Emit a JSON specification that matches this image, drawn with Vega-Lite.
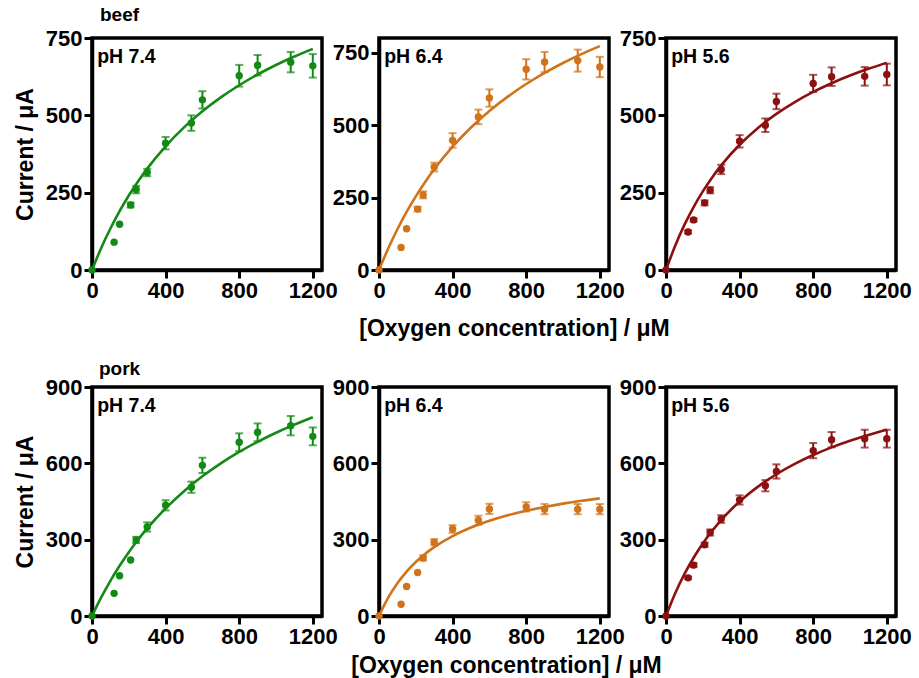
{
  "$schema": "https://vega.github.io/schema/vega-lite/v6.json",
  "background": "white",
  "padding": {"left": 12, "top": 4, "right": 5, "bottom": 2},
  "config": {
    "font": "Liberation Sans",
    "view": {"stroke": "black", "strokeWidth": 3.5},
    "axis": {"domainColor": "black", "domainWidth": 3.5, "tickColor": "black", "tickWidth": 3, "tickSize": 8, "labelFont": "Liberation Sans", "labelFontSize": 22, "labelFontWeight": "bold", "labelColor": "black", "titleFont": "Liberation Sans", "titleFontSize": 23, "titleFontWeight": "bold", "titleColor": "black", "grid": false, "labelFlush": false, "labelPadding": 2, "labelOverlap": false}
  },
  "datasets": {
    "pts": [
      {"m": "beef", "p": "7.4", "x": 0, "y": 0, "e": 0},
      {"m": "beef", "p": "7.4", "x": 120, "y": 90, "e": 0},
      {"m": "beef", "p": "7.4", "x": 150, "y": 148, "e": 0},
      {"m": "beef", "p": "7.4", "x": 210, "y": 210, "e": 8},
      {"m": "beef", "p": "7.4", "x": 240, "y": 260, "e": 12},
      {"m": "beef", "p": "7.4", "x": 300, "y": 315, "e": 12},
      {"m": "beef", "p": "7.4", "x": 400, "y": 410, "e": 20},
      {"m": "beef", "p": "7.4", "x": 540, "y": 475, "e": 25},
      {"m": "beef", "p": "7.4", "x": 600, "y": 550, "e": 28},
      {"m": "beef", "p": "7.4", "x": 800, "y": 628, "e": 35},
      {"m": "beef", "p": "7.4", "x": 900, "y": 662, "e": 33},
      {"m": "beef", "p": "7.4", "x": 1080, "y": 672, "e": 33},
      {"m": "beef", "p": "7.4", "x": 1200, "y": 660, "e": 38},
      {"m": "beef", "p": "6.4", "x": 0, "y": 0, "e": 0},
      {"m": "beef", "p": "6.4", "x": 120, "y": 78, "e": 0},
      {"m": "beef", "p": "6.4", "x": 150, "y": 142, "e": 0},
      {"m": "beef", "p": "6.4", "x": 210, "y": 210, "e": 8},
      {"m": "beef", "p": "6.4", "x": 240, "y": 259, "e": 12},
      {"m": "beef", "p": "6.4", "x": 300, "y": 355, "e": 15},
      {"m": "beef", "p": "6.4", "x": 400, "y": 447, "e": 25},
      {"m": "beef", "p": "6.4", "x": 540, "y": 528, "e": 25},
      {"m": "beef", "p": "6.4", "x": 600, "y": 593, "e": 30},
      {"m": "beef", "p": "6.4", "x": 800, "y": 692, "e": 35},
      {"m": "beef", "p": "6.4", "x": 900, "y": 717, "e": 35},
      {"m": "beef", "p": "6.4", "x": 1080, "y": 722, "e": 38},
      {"m": "beef", "p": "6.4", "x": 1200, "y": 700, "e": 35},
      {"m": "beef", "p": "5.6", "x": 0, "y": 0, "e": 0},
      {"m": "beef", "p": "5.6", "x": 120, "y": 123, "e": 5},
      {"m": "beef", "p": "5.6", "x": 150, "y": 162, "e": 5},
      {"m": "beef", "p": "5.6", "x": 210, "y": 217, "e": 8},
      {"m": "beef", "p": "5.6", "x": 240, "y": 258, "e": 10},
      {"m": "beef", "p": "5.6", "x": 300, "y": 325, "e": 15},
      {"m": "beef", "p": "5.6", "x": 400, "y": 416, "e": 20},
      {"m": "beef", "p": "5.6", "x": 540, "y": 468, "e": 22},
      {"m": "beef", "p": "5.6", "x": 600, "y": 545, "e": 25},
      {"m": "beef", "p": "5.6", "x": 800, "y": 603, "e": 28},
      {"m": "beef", "p": "5.6", "x": 900, "y": 625, "e": 30},
      {"m": "beef", "p": "5.6", "x": 1080, "y": 626, "e": 30},
      {"m": "beef", "p": "5.6", "x": 1200, "y": 632, "e": 35},
      {"m": "pork", "p": "7.4", "x": 0, "y": 0, "e": 0},
      {"m": "pork", "p": "7.4", "x": 120, "y": 89, "e": 0},
      {"m": "pork", "p": "7.4", "x": 150, "y": 158, "e": 0},
      {"m": "pork", "p": "7.4", "x": 210, "y": 220, "e": 0},
      {"m": "pork", "p": "7.4", "x": 240, "y": 299, "e": 12},
      {"m": "pork", "p": "7.4", "x": 300, "y": 350, "e": 18},
      {"m": "pork", "p": "7.4", "x": 400, "y": 435, "e": 20},
      {"m": "pork", "p": "7.4", "x": 540, "y": 506, "e": 22},
      {"m": "pork", "p": "7.4", "x": 600, "y": 592, "e": 30},
      {"m": "pork", "p": "7.4", "x": 800, "y": 683, "e": 35},
      {"m": "pork", "p": "7.4", "x": 900, "y": 722, "e": 35},
      {"m": "pork", "p": "7.4", "x": 1080, "y": 748, "e": 38},
      {"m": "pork", "p": "7.4", "x": 1200, "y": 706, "e": 35},
      {"m": "pork", "p": "6.4", "x": 0, "y": 0, "e": 0},
      {"m": "pork", "p": "6.4", "x": 120, "y": 46, "e": 0},
      {"m": "pork", "p": "6.4", "x": 150, "y": 116, "e": 0},
      {"m": "pork", "p": "6.4", "x": 210, "y": 171, "e": 0},
      {"m": "pork", "p": "6.4", "x": 240, "y": 228, "e": 10},
      {"m": "pork", "p": "6.4", "x": 300, "y": 290, "e": 12},
      {"m": "pork", "p": "6.4", "x": 400, "y": 342, "e": 15},
      {"m": "pork", "p": "6.4", "x": 540, "y": 376, "e": 18},
      {"m": "pork", "p": "6.4", "x": 600, "y": 421, "e": 20},
      {"m": "pork", "p": "6.4", "x": 800, "y": 429, "e": 18},
      {"m": "pork", "p": "6.4", "x": 900, "y": 420, "e": 20},
      {"m": "pork", "p": "6.4", "x": 1080, "y": 420, "e": 20},
      {"m": "pork", "p": "6.4", "x": 1200, "y": 420, "e": 20},
      {"m": "pork", "p": "5.6", "x": 0, "y": 0, "e": 0},
      {"m": "pork", "p": "5.6", "x": 120, "y": 150, "e": 5},
      {"m": "pork", "p": "5.6", "x": 150, "y": 200, "e": 8},
      {"m": "pork", "p": "5.6", "x": 210, "y": 280, "e": 8},
      {"m": "pork", "p": "5.6", "x": 240, "y": 328, "e": 12},
      {"m": "pork", "p": "5.6", "x": 300, "y": 381, "e": 15},
      {"m": "pork", "p": "5.6", "x": 400, "y": 456, "e": 18},
      {"m": "pork", "p": "5.6", "x": 540, "y": 512, "e": 22},
      {"m": "pork", "p": "5.6", "x": 600, "y": 568, "e": 28},
      {"m": "pork", "p": "5.6", "x": 800, "y": 650, "e": 30},
      {"m": "pork", "p": "5.6", "x": 900, "y": 693, "e": 30},
      {"m": "pork", "p": "5.6", "x": 1080, "y": 697, "e": 35},
      {"m": "pork", "p": "5.6", "x": 1200, "y": 697, "e": 35}
    ],
    "fit": [
      {"m": "beef", "p": "7.4", "x": 0, "y": 0}, {"m": "beef", "p": "7.4", "x": 50, "y": 71.1}, {"m": "beef", "p": "7.4", "x": 100, "y": 134.1}, {"m": "beef", "p": "7.4", "x": 150, "y": 190.4}, {"m": "beef", "p": "7.4", "x": 200, "y": 240.9}, {"m": "beef", "p": "7.4", "x": 250, "y": 286.4}, {"m": "beef", "p": "7.4", "x": 300, "y": 327.8}, {"m": "beef", "p": "7.4", "x": 400, "y": 400}, {"m": "beef", "p": "7.4", "x": 500, "y": 460.9}, {"m": "beef", "p": "7.4", "x": 600, "y": 513}, {"m": "beef", "p": "7.4", "x": 700, "y": 558}, {"m": "beef", "p": "7.4", "x": 800, "y": 597.3}, {"m": "beef", "p": "7.4", "x": 900, "y": 632}, {"m": "beef", "p": "7.4", "x": 1000, "y": 662.7}, {"m": "beef", "p": "7.4", "x": 1100, "y": 690.2}, {"m": "beef", "p": "7.4", "x": 1200, "y": 714.9},
      {"m": "beef", "p": "6.4", "x": 0, "y": 0}, {"m": "beef", "p": "6.4", "x": 50, "y": 74.3}, {"m": "beef", "p": "6.4", "x": 100, "y": 140.6}, {"m": "beef", "p": "6.4", "x": 150, "y": 200.2}, {"m": "beef", "p": "6.4", "x": 200, "y": 253.9}, {"m": "beef", "p": "6.4", "x": 250, "y": 302.6}, {"m": "beef", "p": "6.4", "x": 300, "y": 347.1}, {"m": "beef", "p": "6.4", "x": 400, "y": 425.1}, {"m": "beef", "p": "6.4", "x": 500, "y": 491.3}, {"m": "beef", "p": "6.4", "x": 600, "y": 548.3}, {"m": "beef", "p": "6.4", "x": 700, "y": 597.8}, {"m": "beef", "p": "6.4", "x": 800, "y": 641.3}, {"m": "beef", "p": "6.4", "x": 900, "y": 679.7}, {"m": "beef", "p": "6.4", "x": 1000, "y": 713.9}, {"m": "beef", "p": "6.4", "x": 1100, "y": 744.6}, {"m": "beef", "p": "6.4", "x": 1200, "y": 772.2},
      {"m": "beef", "p": "5.6", "x": 0, "y": 0}, {"m": "beef", "p": "5.6", "x": 50, "y": 78.6}, {"m": "beef", "p": "5.6", "x": 100, "y": 145.7}, {"m": "beef", "p": "5.6", "x": 150, "y": 203.6}, {"m": "beef", "p": "5.6", "x": 200, "y": 254.2}, {"m": "beef", "p": "5.6", "x": 250, "y": 298.6}, {"m": "beef", "p": "5.6", "x": 300, "y": 338.1}, {"m": "beef", "p": "5.6", "x": 400, "y": 404.9}, {"m": "beef", "p": "5.6", "x": 500, "y": 459.4}, {"m": "beef", "p": "5.6", "x": 600, "y": 504.6}, {"m": "beef", "p": "5.6", "x": 700, "y": 542.9}, {"m": "beef", "p": "5.6", "x": 800, "y": 575.6}, {"m": "beef", "p": "5.6", "x": 900, "y": 603.8}, {"m": "beef", "p": "5.6", "x": 1000, "y": 628.6}, {"m": "beef", "p": "5.6", "x": 1100, "y": 650.3}, {"m": "beef", "p": "5.6", "x": 1200, "y": 669.7},
      {"m": "pork", "p": "7.4", "x": 0, "y": 0}, {"m": "pork", "p": "7.4", "x": 50, "y": 72.8}, {"m": "pork", "p": "7.4", "x": 100, "y": 138.2}, {"m": "pork", "p": "7.4", "x": 150, "y": 197.2}, {"m": "pork", "p": "7.4", "x": 200, "y": 250.7}, {"m": "pork", "p": "7.4", "x": 250, "y": 299.6}, {"m": "pork", "p": "7.4", "x": 300, "y": 344.2}, {"m": "pork", "p": "7.4", "x": 400, "y": 423.1}, {"m": "pork", "p": "7.4", "x": 500, "y": 490.6}, {"m": "pork", "p": "7.4", "x": 600, "y": 548.9}, {"m": "pork", "p": "7.4", "x": 700, "y": 599.9}, {"m": "pork", "p": "7.4", "x": 800, "y": 644.8}, {"m": "pork", "p": "7.4", "x": 900, "y": 684.6}, {"m": "pork", "p": "7.4", "x": 1000, "y": 720.2}, {"m": "pork", "p": "7.4", "x": 1100, "y": 752.2}, {"m": "pork", "p": "7.4", "x": 1200, "y": 781.2},
      {"m": "pork", "p": "6.4", "x": 0, "y": 0}, {"m": "pork", "p": "6.4", "x": 50, "y": 72}, {"m": "pork", "p": "6.4", "x": 100, "y": 128.7}, {"m": "pork", "p": "6.4", "x": 150, "y": 174.5}, {"m": "pork", "p": "6.4", "x": 200, "y": 212.3}, {"m": "pork", "p": "6.4", "x": 250, "y": 244}, {"m": "pork", "p": "6.4", "x": 300, "y": 270.9}, {"m": "pork", "p": "6.4", "x": 400, "y": 314.3}, {"m": "pork", "p": "6.4", "x": 500, "y": 347.7}, {"m": "pork", "p": "6.4", "x": 600, "y": 374.2}, {"m": "pork", "p": "6.4", "x": 700, "y": 395.8}, {"m": "pork", "p": "6.4", "x": 800, "y": 413.7}, {"m": "pork", "p": "6.4", "x": 900, "y": 428.7}, {"m": "pork", "p": "6.4", "x": 1000, "y": 441.6}, {"m": "pork", "p": "6.4", "x": 1100, "y": 452.7}, {"m": "pork", "p": "6.4", "x": 1200, "y": 462.4},
      {"m": "pork", "p": "5.6", "x": 0, "y": 0}, {"m": "pork", "p": "5.6", "x": 50, "y": 89.1}, {"m": "pork", "p": "5.6", "x": 100, "y": 164.5}, {"m": "pork", "p": "5.6", "x": 150, "y": 229.1}, {"m": "pork", "p": "5.6", "x": 200, "y": 285}, {"m": "pork", "p": "5.6", "x": 250, "y": 334}, {"m": "pork", "p": "5.6", "x": 300, "y": 377.1}, {"m": "pork", "p": "5.6", "x": 400, "y": 449.8}, {"m": "pork", "p": "5.6", "x": 500, "y": 508.6}, {"m": "pork", "p": "5.6", "x": 600, "y": 557.1}, {"m": "pork", "p": "5.6", "x": 700, "y": 597.9}, {"m": "pork", "p": "5.6", "x": 800, "y": 632.6}, {"m": "pork", "p": "5.6", "x": 900, "y": 662.6}, {"m": "pork", "p": "5.6", "x": 1000, "y": 688.6}, {"m": "pork", "p": "5.6", "x": 1100, "y": 711.5}, {"m": "pork", "p": "5.6", "x": 1200, "y": 731.8}
    ],
    "labels": [
      {"m": "beef", "p": "7.4", "t": "pH 7.4"}, {"m": "beef", "p": "6.4", "t": "pH 6.4"}, {"m": "beef", "p": "5.6", "t": "pH 5.6"},
      {"m": "pork", "p": "7.4", "t": "pH 7.4"}, {"m": "pork", "p": "6.4", "t": "pH 6.4"}, {"m": "pork", "p": "5.6", "t": "pH 5.6"}
    ]
  },
  "bounds": "flush",
  "columns": 3,
  "spacing": {"row": 117, "column": 57},
  "concat": [
    {
      "width": 230, "height": 232,
      "title": {"text": "beef", "anchor": "start", "frame": "group", "fontSize": 19, "fontWeight": "bold", "color": "black", "offset": 2, "dx": 8},
      "layer": [
        {
          "encoding": {
            "x": {"field": "x", "type": "quantitative", "title": null, "scale": {"domain": [0, 1250], "nice": false}, "axis": {"values": [0, 400, 800, 1200], "format": "d"}},
            "y": {"field": "y", "type": "quantitative", "title": "Current / μA", "scale": {"domain": [0, 750], "nice": false}, "axis": {"values": [0, 250, 500, 750], "titlePadding": 8}}
          },
          "layer": [
            {"data": {"name": "fit"}, "transform": [{"filter": "datum.m == 'beef' && datum.p == '7.4'"}],
             "mark": {"type": "line", "color": "#128a14", "strokeWidth": 2.6, "interpolate": "monotone", "clip": true}},
            {"data": {"name": "pts"}, "transform": [{"filter": "datum.m == 'beef' && datum.p == '7.4' && datum.e > 0"}],
             "mark": {"type": "errorbar", "color": "#128a14", "ticks": {"size": 8, "thickness": 2}, "rule": {"strokeWidth": 2}},
             "encoding": {"yError": {"field": "e"}}},
            {"data": {"name": "pts"}, "transform": [{"filter": "datum.m == 'beef' && datum.p == '7.4'"}],
             "mark": {"type": "circle", "color": "#128a14", "size": 55, "opacity": 1}}
          ]
        },
        {"data": {"name": "labels"}, "transform": [{"filter": "datum.m == 'beef' && datum.p == '7.4'"}],
         "mark": {"type": "text", "align": "left", "baseline": "middle", "fontSize": 19.5, "fontWeight": "bold", "color": "black"},
         "encoding": {"x": {"datum": 28, "type": "quantitative", "title": null}, "y": {"datum": 689, "type": "quantitative", "title": "Current / μA"}, "text": {"field": "t"}}}
      ]
    },
    {
      "width": 230, "height": 232,
      "layer": [
        {
          "encoding": {
            "x": {"field": "x", "type": "quantitative", "title": "[Oxygen concentration] / μM", "scale": {"domain": [0, 1250], "nice": false}, "axis": {"values": [0, 400, 800, 1200], "format": "d", "titleX": 135, "titlePadding": 16}},
            "y": {"field": "y", "type": "quantitative", "title": null, "scale": {"domain": [0, 800], "nice": false}, "axis": {"values": [0, 250, 500, 750]}}
          },
          "layer": [
            {"data": {"name": "fit"}, "transform": [{"filter": "datum.m == 'beef' && datum.p == '6.4'"}],
             "mark": {"type": "line", "color": "#d0731a", "strokeWidth": 2.6, "interpolate": "monotone", "clip": true}},
            {"data": {"name": "pts"}, "transform": [{"filter": "datum.m == 'beef' && datum.p == '6.4' && datum.e > 0"}],
             "mark": {"type": "errorbar", "color": "#d0731a", "ticks": {"size": 8, "thickness": 2}, "rule": {"strokeWidth": 2}},
             "encoding": {"yError": {"field": "e"}}},
            {"data": {"name": "pts"}, "transform": [{"filter": "datum.m == 'beef' && datum.p == '6.4'"}],
             "mark": {"type": "circle", "color": "#d0731a", "size": 55, "opacity": 1}}
          ]
        },
        {"data": {"name": "labels"}, "transform": [{"filter": "datum.m == 'beef' && datum.p == '6.4'"}],
         "mark": {"type": "text", "align": "left", "baseline": "middle", "fontSize": 19.5, "fontWeight": "bold", "color": "black"},
         "encoding": {"x": {"datum": 28, "type": "quantitative", "title": "[Oxygen concentration] / μM"}, "y": {"datum": 734, "type": "quantitative", "title": null}, "text": {"field": "t"}}}
      ]
    },
    {
      "width": 230, "height": 232,
      "layer": [
        {
          "encoding": {
            "x": {"field": "x", "type": "quantitative", "title": null, "scale": {"domain": [0, 1250], "nice": false}, "axis": {"values": [0, 400, 800, 1200], "format": "d"}},
            "y": {"field": "y", "type": "quantitative", "title": null, "scale": {"domain": [0, 750], "nice": false}, "axis": {"values": [0, 250, 500, 750]}}
          },
          "layer": [
            {"data": {"name": "fit"}, "transform": [{"filter": "datum.m == 'beef' && datum.p == '5.6'"}],
             "mark": {"type": "line", "color": "#8c1010", "strokeWidth": 2.6, "interpolate": "monotone", "clip": true}},
            {"data": {"name": "pts"}, "transform": [{"filter": "datum.m == 'beef' && datum.p == '5.6' && datum.e > 0"}],
             "mark": {"type": "errorbar", "color": "#8c1010", "ticks": {"size": 8, "thickness": 2}, "rule": {"strokeWidth": 2}},
             "encoding": {"yError": {"field": "e"}}},
            {"data": {"name": "pts"}, "transform": [{"filter": "datum.m == 'beef' && datum.p == '5.6'"}],
             "mark": {"type": "circle", "color": "#8c1010", "size": 55, "opacity": 1}}
          ]
        },
        {"data": {"name": "labels"}, "transform": [{"filter": "datum.m == 'beef' && datum.p == '5.6'"}],
         "mark": {"type": "text", "align": "left", "baseline": "middle", "fontSize": 19.5, "fontWeight": "bold", "color": "black"},
         "encoding": {"x": {"datum": 28, "type": "quantitative", "title": null}, "y": {"datum": 689, "type": "quantitative", "title": null}, "text": {"field": "t"}}}
      ]
    },
    {
      "width": 230, "height": 229,
      "title": {"text": "pork", "anchor": "start", "frame": "group", "fontSize": 19, "fontWeight": "bold", "color": "black", "offset": -3, "dx": 7},
      "layer": [
        {
          "encoding": {
            "x": {"field": "x", "type": "quantitative", "title": null, "scale": {"domain": [0, 1250], "nice": false}, "axis": {"values": [0, 400, 800, 1200], "format": "d"}},
            "y": {"field": "y", "type": "quantitative", "title": "Current / μA", "scale": {"domain": [0, 900], "nice": false}, "axis": {"values": [0, 300, 600, 900], "titlePadding": 8}}
          },
          "layer": [
            {"data": {"name": "fit"}, "transform": [{"filter": "datum.m == 'pork' && datum.p == '7.4'"}],
             "mark": {"type": "line", "color": "#128a14", "strokeWidth": 2.6, "interpolate": "monotone", "clip": true}},
            {"data": {"name": "pts"}, "transform": [{"filter": "datum.m == 'pork' && datum.p == '7.4' && datum.e > 0"}],
             "mark": {"type": "errorbar", "color": "#128a14", "ticks": {"size": 8, "thickness": 2}, "rule": {"strokeWidth": 2}},
             "encoding": {"yError": {"field": "e"}}},
            {"data": {"name": "pts"}, "transform": [{"filter": "datum.m == 'pork' && datum.p == '7.4'"}],
             "mark": {"type": "circle", "color": "#128a14", "size": 55, "opacity": 1}}
          ]
        },
        {"data": {"name": "labels"}, "transform": [{"filter": "datum.m == 'pork' && datum.p == '7.4'"}],
         "mark": {"type": "text", "align": "left", "baseline": "middle", "fontSize": 19.5, "fontWeight": "bold", "color": "black"},
         "encoding": {"x": {"datum": 28, "type": "quantitative", "title": null}, "y": {"datum": 825, "type": "quantitative", "title": "Current / μA"}, "text": {"field": "t"}}}
      ]
    },
    {
      "width": 230, "height": 229,
      "layer": [
        {
          "encoding": {
            "x": {"field": "x", "type": "quantitative", "title": "[Oxygen concentration] / μM", "scale": {"domain": [0, 1250], "nice": false}, "axis": {"values": [0, 400, 800, 1200], "format": "d", "titleX": 127, "titlePadding": 7}},
            "y": {"field": "y", "type": "quantitative", "title": null, "scale": {"domain": [0, 900], "nice": false}, "axis": {"values": [0, 300, 600, 900]}}
          },
          "layer": [
            {"data": {"name": "fit"}, "transform": [{"filter": "datum.m == 'pork' && datum.p == '6.4'"}],
             "mark": {"type": "line", "color": "#d0731a", "strokeWidth": 2.6, "interpolate": "monotone", "clip": true}},
            {"data": {"name": "pts"}, "transform": [{"filter": "datum.m == 'pork' && datum.p == '6.4' && datum.e > 0"}],
             "mark": {"type": "errorbar", "color": "#d0731a", "ticks": {"size": 8, "thickness": 2}, "rule": {"strokeWidth": 2}},
             "encoding": {"yError": {"field": "e"}}},
            {"data": {"name": "pts"}, "transform": [{"filter": "datum.m == 'pork' && datum.p == '6.4'"}],
             "mark": {"type": "circle", "color": "#d0731a", "size": 55, "opacity": 1}}
          ]
        },
        {"data": {"name": "labels"}, "transform": [{"filter": "datum.m == 'pork' && datum.p == '6.4'"}],
         "mark": {"type": "text", "align": "left", "baseline": "middle", "fontSize": 19.5, "fontWeight": "bold", "color": "black"},
         "encoding": {"x": {"datum": 28, "type": "quantitative", "title": "[Oxygen concentration] / μM"}, "y": {"datum": 825, "type": "quantitative", "title": null}, "text": {"field": "t"}}}
      ]
    },
    {
      "width": 230, "height": 229,
      "layer": [
        {
          "encoding": {
            "x": {"field": "x", "type": "quantitative", "title": null, "scale": {"domain": [0, 1250], "nice": false}, "axis": {"values": [0, 400, 800, 1200], "format": "d"}},
            "y": {"field": "y", "type": "quantitative", "title": null, "scale": {"domain": [0, 900], "nice": false}, "axis": {"values": [0, 300, 600, 900]}}
          },
          "layer": [
            {"data": {"name": "fit"}, "transform": [{"filter": "datum.m == 'pork' && datum.p == '5.6'"}],
             "mark": {"type": "line", "color": "#8c1010", "strokeWidth": 2.6, "interpolate": "monotone", "clip": true}},
            {"data": {"name": "pts"}, "transform": [{"filter": "datum.m == 'pork' && datum.p == '5.6' && datum.e > 0"}],
             "mark": {"type": "errorbar", "color": "#8c1010", "ticks": {"size": 8, "thickness": 2}, "rule": {"strokeWidth": 2}},
             "encoding": {"yError": {"field": "e"}}},
            {"data": {"name": "pts"}, "transform": [{"filter": "datum.m == 'pork' && datum.p == '5.6'"}],
             "mark": {"type": "circle", "color": "#8c1010", "size": 55, "opacity": 1}}
          ]
        },
        {"data": {"name": "labels"}, "transform": [{"filter": "datum.m == 'pork' && datum.p == '5.6'"}],
         "mark": {"type": "text", "align": "left", "baseline": "middle", "fontSize": 19.5, "fontWeight": "bold", "color": "black"},
         "encoding": {"x": {"datum": 28, "type": "quantitative", "title": null}, "y": {"datum": 825, "type": "quantitative", "title": null}, "text": {"field": "t"}}}
      ]
    }
  ]
}
